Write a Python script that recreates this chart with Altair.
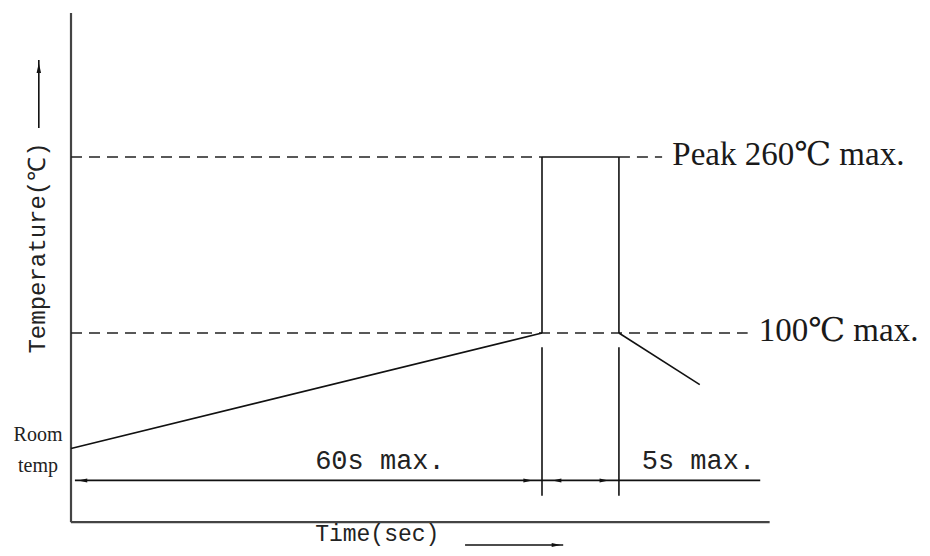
import altair as alt
import pandas as pd

# ---- schematic values (time units, temperature units) ----
t_start = 0.0
t_peak_in = 60.0
t_peak_out = 69.8
t_cool_end = 80.1
temp_room = -5.0
temp_pre = 100.0
temp_peak = 260.0
temp_cool_end = 53.0

# solid profile segments
seg_x = [t_start, t_peak_out, t_peak_in, t_peak_in, t_peak_in, t_peak_out, t_peak_out, 0.5, 50.2, -4.1]
seg_y = [temp_room, temp_pre, temp_peak, temp_peak, 87.0, temp_peak, 87.0, -34.0, -92.7, 286.4]
seg_x2 = [t_peak_in, t_cool_end, t_peak_out, t_peak_in, t_peak_in, t_peak_out, t_peak_out, 87.8, 62.7, -4.1]
seg_y2 = [temp_pre, temp_cool_end, temp_peak, temp_pre, -48.0, temp_pre, -48.0, -34.0, -92.7, 348.2]

# dashed reference levels
dash_x = [0.0, t_peak_out, 0.0]
dash_y = [temp_peak, temp_peak, temp_pre]
dash_x2 = [t_peak_in, 75.3, 86.2]

# axis lines
axis_x = [0.0, 0.0]
axis_y = [-72.0, -72.0]
axis_x2 = [0.0, 89.0]
axis_y2 = [391.0, -72.0]

# arrow heads
arrow_r_x = [58.2, 67.9, 61.8]
arrow_r_y = [-34.0, -34.0, -92.7]
arrow_l_x = [1.5, 61.9]
arrow_l_y = [-34.0, -34.0]
arrow_u_x = [-4.1]
arrow_u_y = [341.0]

# labels
serif_labels = ["Peak 260℃ max.", "100℃ max."]
serif_x = [76.6, 87.6]
serif_y = [temp_peak, temp_pre]

room_labels = ["Room", "temp"]
room_x = [-4.2, -4.2]
room_y = [7.0, -21.0]

dim_labels = ["60s max.", "5s max."]
dim_x = [31.1, 72.7]
dim_y = [-24.0, -24.0]

xlabel = ["Time(sec)"]
xlabel_x = [31.1]
xlabel_y = [-89.1]

ylabel = ["Temperature(℃)"]
ylabel_x = [-4.2]
ylabel_y = [177.3]

# ---- scales ----
PX_X = 7.85
PX_Y = 1.1
XMIN, XMAX = (8 - 71) / PX_X, (922 - 71) / PX_X
YMAX, YMIN = 100 + (333 - 8) / PX_Y, 100 - (548 - 333) / PX_Y
xs = alt.Scale(domain=[XMIN, XMAX], nice=False, zero=False)
ys = alt.Scale(domain=[YMIN, YMAX], nice=False, zero=False)


def X(f="x"):
    return alt.X(f"{f}:Q", scale=xs, axis=None)


def Y(f="y"):
    return alt.Y(f"{f}:Q", scale=ys, axis=None)


segs = pd.DataFrame({"x": seg_x, "y": seg_y, "x2": seg_x2, "y2": seg_y2})
dashes = pd.DataFrame({"x": dash_x, "y": dash_y, "x2": dash_x2})
axes = pd.DataFrame({"x": axis_x, "y": axis_y, "x2": axis_x2, "y2": axis_y2})

solid = alt.Chart(segs).mark_rule(color="#111", strokeWidth=1.6).encode(
    x=X(), y=Y(), x2="x2:Q", y2="y2:Q")
dashed = alt.Chart(dashes).mark_rule(color="#222", strokeWidth=1.5, strokeDash=[11, 7]).encode(
    x=X(), y=Y(), x2="x2:Q")
axis_lines = alt.Chart(axes).mark_rule(color="#444", strokeWidth=2.2).encode(
    x=X(), y=Y(), x2="x2:Q", y2="y2:Q")

R_PATH = "M-1,-0.45L1,0L-1,0.45Z"
L_PATH = "M1,-0.45L-1,0L1,0.45Z"
U_PATH = "M-0.45,1L0,-1L0.45,1Z"

arr_r = alt.Chart(pd.DataFrame({"x": arrow_r_x, "y": arrow_r_y})).mark_point(
    shape=R_PATH, filled=True, color="#111", size=80, opacity=1).encode(x=X(), y=Y())
arr_l = alt.Chart(pd.DataFrame({"x": arrow_l_x, "y": arrow_l_y})).mark_point(
    shape=L_PATH, filled=True, color="#111", size=80, opacity=1).encode(x=X(), y=Y())
arr_u = alt.Chart(pd.DataFrame({"x": arrow_u_x, "y": arrow_u_y})).mark_point(
    shape=U_PATH, filled=True, color="#111", size=100, opacity=1).encode(x=X(), y=Y())

SERIF = "'Liberation Serif', 'DejaVu Serif', serif"
MONO = "'Liberation Mono', 'DejaVu Sans Mono', monospace"

serif_txt = alt.Chart(pd.DataFrame({"x": serif_x, "y": serif_y, "t": serif_labels})).mark_text(
    align="left", baseline="middle", dy=-2, fontSize=33, color="#1a1a1a",
    font=SERIF).encode(x=X(), y=Y(), text="t:N")
room_txt = alt.Chart(pd.DataFrame({"x": room_x, "y": room_y, "t": room_labels})).mark_text(
    align="center", baseline="middle", fontSize=20, color="#222",
    font="'Liberation Serif', serif").encode(x=X(), y=Y(), text="t:N")
dim_txt = alt.Chart(pd.DataFrame({"x": dim_x, "y": dim_y, "t": dim_labels})).mark_text(
    align="left", baseline="alphabetic", fontSize=27, color="#222",
    font=MONO).encode(x=X(), y=Y(), text="t:N")
xlab_txt = alt.Chart(pd.DataFrame({"x": xlabel_x, "y": xlabel_y, "t": xlabel})).mark_text(
    align="left", baseline="alphabetic", fontSize=23, color="#222",
    font=MONO).encode(x=X(), y=Y(), text="t:N")
ylab_txt = alt.Chart(pd.DataFrame({"x": ylabel_x, "y": ylabel_y, "t": ylabel})).mark_text(
    align="center", baseline="middle", angle=270, fontSize=24, color="#222",
    font=MONO).encode(x=X(), y=Y(), text="t:N")

chart = alt.layer(axis_lines, dashed, solid, arr_r, arr_l, arr_u,
                  serif_txt, room_txt, dim_txt, xlab_txt, ylab_txt).properties(
    width=914, height=540, padding=0, background="white",
    autosize=alt.AutoSizeParams(type="none")
).configure_view(stroke=None)

chart.save("out.html", embed_options={"renderer": "svg", "actions": False})
